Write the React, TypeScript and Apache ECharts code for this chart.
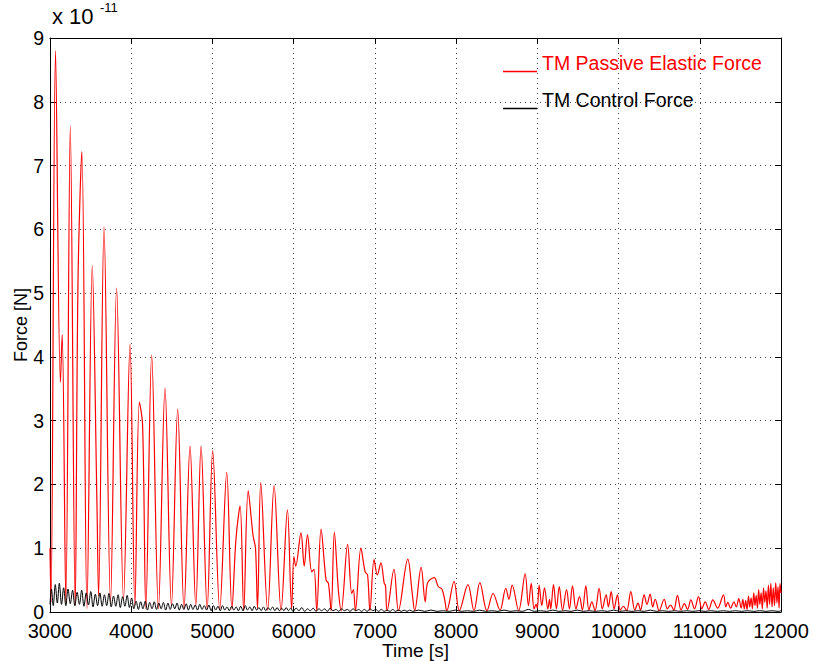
import React, { useEffect, useRef } from "react";
import * as echarts from "echarts";

// Force values are in units of 1e-11 N (the axis carries the "x 10^-11" multiplier).
const xTicks = [3000, 4000, 5000, 6000, 7000, 8000, 9000, 10000, 11000, 12000];
const yTicks = [0, 1, 2, 3, 4, 5, 6, 7, 8, 9];

// TM passive elastic force: [time (s), force (1e-11 N)] turning points
const passiveElastic: [number, number][] = [
  [3000, 1.0], [3012, 0.15], [3068, 8.8], [3128, 3.6], [3150, 4.35], [3195, 0.15],
  [3250, 7.62], [3310, 0.1], [3345, 5.2], [3392, 7.22], [3455, 0.05], [3520, 5.43],
  [3578, 1.7], [3598, 0.25], [3665, 6.04], [3745, 0.15], [3820, 5.08], [3905, 0.2],
  [3985, 4.2], [4045, 0.1], [4100, 3.29], [4140, 2.94], [4180, 0.05], [4252, 4.03],
  [4335, 0.05], [4416, 3.51], [4495, 0.1], [4572, 3.18], [4650, 0.05], [4724, 2.6],
  [4795, 0.1], [4860, 2.6], [4935, 0.05], [5003, 2.53], [5090, 0.05], [5176, 2.19],
  [5240, 0.05], [5290, 1.15], [5340, 1.66], [5385, 0.02], [5440, 1.9], [5500, 1.2],
  [5530, 1.0], [5555, 0.05], [5595, 2.03], [5680, 0.03], [5759, 1.98], [5845, 0.03],
  [5923, 1.6], [5975, 0.05], [6003, 0.87], [6025, 0.72], [6090, 1.24], [6130, 0.72],
  [6170, 1.21], [6223, 0.63], [6251, 0.67], [6284, 0.02], [6337, 1.3], [6399, 0.5],
  [6428, 0.45], [6461, 0.02], [6501, 1.25], [6550, 0.35], [6585, 0.02], [6664, 1.06],
  [6715, 0.29], [6735, 0.35], [6760, 0.02], [6828, 1.0], [6880, 0.63], [6910, 0.58],
  [6939, 0.02], [6990, 0.82], [7030, 0.58], [7074, 0.77], [7115, 0.45], [7130, 0.42],
  [7150, 0.02], [7235, 0.67], [7290, 0.02], [7405, 0.83], [7460, 0.29], [7490, 0.02],
  [7569, 0.7], [7620, 0.16], [7650, 0.46], [7731, 0.54], [7780, 0.4], [7825, 0.36],
  [7860, 0.19], [7885, 0.02], [7975, 0.48], [8040, 0.02], [8146, 0.43], [8220, 0.02],
  [8292, 0.46], [8380, 0.02], [8455, 0.29], [8540, 0.03], [8612, 0.37], [8650, 0.2],
  [8690, 0.42], [8770, 0.02], [8850, 0.6], [8890, 0.1], [8925, 0.45], [8960, 0.05],
  [8985, 0.12], [9000, 0.06], [9022, 0.42], [9055, 0.1], [9088, 0.38], [9130, 0.05],
  [9150, 0.2], [9165, 0.05], [9199, 0.43], [9235, 0.05], [9270, 0.4], [9310, 0.03],
  [9360, 0.35], [9395, 0.05], [9433, 0.41], [9475, 0.05], [9519, 0.24], [9555, 0.03],
  [9597, 0.41], [9635, 0.03], [9671, 0.16], [9710, 0.02], [9761, 0.37], [9800, 0.05],
  [9847, 0.27], [9875, 0.08], [9909, 0.32], [9945, 0.05], [9986, 0.27], [10020, 0.03],
  [10060, 0.09], [10100, 0.02], [10151, 0.32], [10200, 0.03], [10240, 0.14], [10270, 0.03],
  [10315, 0.27], [10350, 0.12], [10389, 0.28], [10420, 0.08], [10451, 0.2], [10500, 0.02],
  [10562, 0.2], [10600, 0.05], [10640, 0.11], [10680, 0.03], [10725, 0.26], [10770, 0.03],
  [10810, 0.13], [10850, 0.04], [10890, 0.19], [10935, 0.05], [10984, 0.24], [11025, 0.05],
  [11067, 0.16], [11110, 0.04], [11161, 0.19], [11220, 0.06], [11292, 0.27], [11320, 0.08],
  [11345, 0.15], [11380, 0.06], [11420, 0.16], [11450, 0.08], [11480, 0.21], [11510, 0.06],
  [11530, 0.2], [11548, 0.05], [11565, 0.18], [11582, 0.04], [11600, 0.25], [11615, 0.08],
  [11632, 0.22], [11648, 0.05], [11665, 0.3], [11680, 0.1], [11695, 0.26], [11710, 0.06],
  [11725, 0.35], [11740, 0.12], [11755, 0.3], [11770, 0.05], [11785, 0.38], [11800, 0.15],
  [11815, 0.33], [11830, 0.06], [11845, 0.42], [11860, 0.12], [11875, 0.45], [11890, 0.08],
  [11905, 0.38], [11920, 0.1], [11935, 0.46], [11950, 0.14], [11963, 0.4], [11976, 0.06],
  [11988, 0.45], [12000, 0.3],
];

// TM control force: [time (s), force (1e-11 N)] turning points
const controlForce: [number, number][] = [
  [3000, 0.12], [3018, 0.36], [3040, 0.1], [3065, 0.43], [3090, 0.14], [3115, 0.45],
  [3142, 0.12], [3168, 0.38], [3195, 0.1], [3222, 0.36], [3250, 0.13], [3278, 0.34],
  [3306, 0.1], [3334, 0.31], [3362, 0.12], [3390, 0.34], [3418, 0.09], [3446, 0.3],
  [3474, 0.11], [3502, 0.32], [3530, 0.08], [3558, 0.28], [3586, 0.1], [3614, 0.3],
  [3642, 0.09], [3670, 0.27], [3698, 0.1], [3726, 0.29], [3754, 0.08], [3782, 0.25],
  [3810, 0.09], [3838, 0.27], [3866, 0.07], [3894, 0.24], [3922, 0.09], [3950, 0.26],
  [3978, 0.07], [4005, 0.22], [4032, 0.05], [4060, 0.17], [4088, 0.04], [4116, 0.16],
  [4144, 0.05], [4172, 0.17], [4200, 0.03], [4228, 0.15], [4256, 0.05], [4284, 0.16],
  [4312, 0.04], [4340, 0.14], [4368, 0.05], [4396, 0.15], [4424, 0.03], [4452, 0.14],
  [4480, 0.04], [4508, 0.13], [4536, 0.05], [4564, 0.14], [4592, 0.03], [4620, 0.12],
  [4648, 0.04], [4676, 0.13], [4704, 0.03], [4732, 0.12], [4760, 0.04], [4788, 0.11],
  [4816, 0.03], [4844, 0.12], [4872, 0.04], [4900, 0.1], [4928, 0.03], [4956, 0.11],
  [4984, 0.02], [5012, 0.1], [5040, 0.03], [5068, 0.09], [5096, 0.02], [5124, 0.1],
  [5152, 0.03], [5180, 0.08], [5208, 0.02], [5236, 0.09], [5264, 0.03], [5292, 0.08],
  [5320, 0.02], [5348, 0.09], [5376, 0.02], [5404, 0.1], [5432, 0.03], [5460, 0.08],
  [5488, 0.02], [5516, 0.09], [5544, 0.03], [5572, 0.07], [5600, 0.02], [5628, 0.08],
  [5656, 0.02], [5684, 0.07], [5712, 0.03], [5740, 0.08], [5768, 0.02], [5796, 0.07],
  [5824, 0.02], [5852, 0.06], [5880, 0.02], [5908, 0.07], [5936, 0.02], [5964, 0.06],
  [5992, 0.01], [6030, 0.06], [6065, 0.02], [6100, 0.07], [6135, 0.01], [6170, 0.05],
  [6205, 0.02], [6240, 0.06], [6275, 0.01], [6310, 0.05], [6345, 0.02], [6380, 0.05],
  [6415, 0.01], [6450, 0.06], [6485, 0.02], [6520, 0.04], [6555, 0.01], [6590, 0.05],
  [6625, 0.02], [6660, 0.04], [6695, 0.01], [6730, 0.05], [6765, 0.02], [6800, 0.04],
  [6835, 0.01], [6870, 0.04], [6905, 0.01], [6940, 0.05], [6975, 0.02], [7010, 0.04],
  [7045, 0.01], [7080, 0.04], [7115, 0.01], [7150, 0.03], [7185, 0.01], [7220, 0.04],
  [7255, 0.01], [7290, 0.03], [7325, 0.01], [7360, 0.03], [7395, 0.01], [7430, 0.03],
  [7465, 0.01], [7540, 0.03], [7615, 0.01], [7690, 0.03], [7765, 0.01], [7840, 0.02],
  [7915, 0.01], [7990, 0.03], [8065, 0.01], [8140, 0.02], [8215, 0.01], [8290, 0.03],
  [8365, 0.01], [8440, 0.02], [8515, 0.01], [8590, 0.03], [8665, 0.01], [8740, 0.02],
  [8815, 0.01], [8890, 0.04], [8965, 0.01], [9040, 0.02], [9115, 0.01], [9190, 0.03],
  [9265, 0.01], [9340, 0.02], [9415, 0.01], [9490, 0.03], [9565, 0.01], [9640, 0.02],
  [9715, 0.01], [9790, 0.02], [9865, 0.01], [9940, 0.03], [10015, 0.01], [10090, 0.02],
  [10165, 0.01], [10240, 0.02], [10315, 0.01], [10390, 0.03], [10465, 0.01], [10540, 0.02],
  [10615, 0.01], [10690, 0.02], [10765, 0.01], [10840, 0.02], [10915, 0.01], [10990, 0.02],
  [11065, 0.01], [11140, 0.02], [11215, 0.01], [11290, 0.02], [11365, 0.01], [11440, 0.02],
  [11515, 0.01], [11590, 0.02], [11665, 0.01], [11740, 0.02], [11815, 0.01], [11890, 0.02],
  [11965, 0.01], [12000, 0.02],
];

const seriesNames = ["TM Passive Elastic Force", "TM Control Force"];
const seriesColors = ["#ff0000", "#000000"];

const FONT = "'Liberation Sans', Arial, Helvetica, sans-serif";
// legend swatch: a short line sitting at the bottom of the icon box
const LEGEND_ICON = "path://M0,0 L0.01,0 Z M0,17 L34,17 L34,18.4 L0,18.4 Z";

export default function App() {
  const ref = useRef<HTMLDivElement>(null);

  useEffect(() => {
    if (!ref.current) return;
    const chart = echarts.init(ref.current, undefined, { renderer: "svg" });

    const gridLine = { show: true, lineStyle: { color: "#444", type: [1, 4] as number[], width: 1 } };
    const tick = { show: true, inside: true, length: 6, lineStyle: { color: "#000" } };
    const axisLine = { show: true, onZero: false, lineStyle: { color: "#000", width: 1 } };
    const labelStyle = { color: "#000", fontFamily: FONT, fontSize: 20 };

    chart.setOption({
      animation: false,
      backgroundColor: "#fff",
      grid: {
        left: 50,
        right: 32,
        top: 38,
        bottom: 49,
        containLabel: false,
        outerBoundsMode: "none",
      },
      legend: {
        left: 498,
        top: 48,
        orient: "vertical",
        itemWidth: 34,
        itemHeight: 20,
        itemGap: 17,
        selectedMode: false,
        data: seriesNames.map((name, i) => ({
          name,
          icon: LEGEND_ICON,
          textStyle: { color: seriesColors[i], fontFamily: FONT, fontSize: 19.5 },
        })),
      },
      xAxis: [
        {
          type: "value",
          min: xTicks[0],
          max: xTicks[xTicks.length - 1],
          interval: 1000,
          axisLine,
          axisTick: tick,
          splitLine: gridLine,
          axisLabel: {
            ...labelStyle,
            margin: 10,
            lineHeight: 18,
            formatter: (v: number) => String(v),
          },
          name: "Time [s]",
          nameLocation: "middle",
          nameGap: 28,
          nameMoveOverlap: false,
          nameTextStyle: { ...labelStyle, fontSize: 19, lineHeight: 20 },
        },
        {
          type: "value",
          position: "top",
          min: xTicks[0],
          max: xTicks[xTicks.length - 1],
          interval: 1000,
          axisLine,
          axisTick: tick,
          splitLine: { show: false },
          axisLabel: { show: false },
        },
      ],
      yAxis: [
        {
          type: "value",
          min: yTicks[0],
          max: yTicks[yTicks.length - 1],
          interval: 1,
          axisLine,
          axisTick: tick,
          splitLine: gridLine,
          axisLabel: {
            ...labelStyle,
            fontSize: 19.5,
            margin: 6,
            lineHeight: 15,
            formatter: (v: number) => String(v),
          },
          name: "Force [N]",
          nameLocation: "middle",
          nameGap: 20,
          nameRotate: 90,
          nameMoveOverlap: false,
          nameTextStyle: { ...labelStyle, fontSize: 18 },
        },
        {
          type: "value",
          position: "right",
          min: yTicks[0],
          max: yTicks[yTicks.length - 1],
          interval: 1,
          axisLine,
          axisTick: tick,
          splitLine: { show: false },
          axisLabel: { show: false },
        },
      ],
      graphic: [
        {
          type: "text",
          left: 52,
          top: 5,
          style: { text: "x 10", fill: "#000", font: `22px ${FONT}` },
        },
        {
          type: "text",
          left: 100,
          top: 1,
          style: { text: "-11", fill: "#000", font: `13px ${FONT}` },
        },
      ],
      series: [
        {
          name: seriesNames[0],
          type: "line",
          data: passiveElastic,
          showSymbol: false,
          smooth: 0.35,
          lineStyle: { color: seriesColors[0], width: 1.2 },
          itemStyle: { color: seriesColors[0] },
          z: 2,
        },
        {
          name: seriesNames[1],
          type: "line",
          data: controlForce,
          showSymbol: false,
          smooth: 0.35,
          lineStyle: { color: seriesColors[1], width: 1 },
          itemStyle: { color: seriesColors[1] },
          z: 3,
        },
      ],
    });

    return () => chart.dispose();
  }, []);

  return (
    <div
      ref={ref}
      style={{ position: "fixed", left: 0, top: 0, width: 813, height: 661, background: "#fff" }}
    />
  );
}
